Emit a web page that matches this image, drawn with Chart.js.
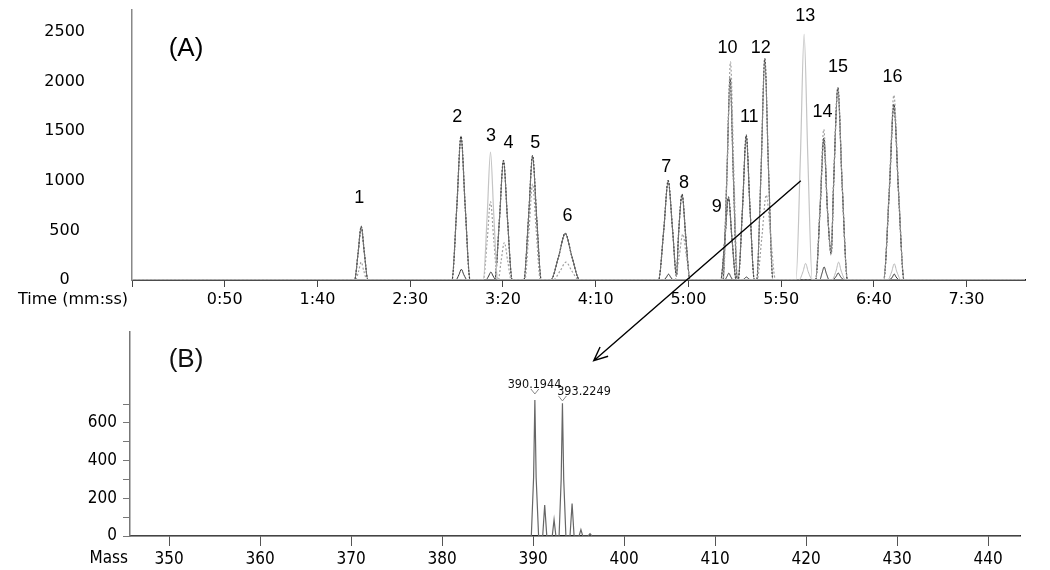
<!DOCTYPE html>
<html>
<head>
<meta charset="utf-8">
<script src="https://cdn.jsdelivr.net/npm/chart.js@4.4.1/dist/chart.umd.min.js"></script>
<style>
  html, body { margin: 0; padding: 0; background: #fff; }
  #wrap { position: relative; width: 1050px; height: 570px; }
  #chromCanvas { position: absolute; left: 0; top: 0; }
  #specCanvas { position: absolute; left: 0; top: 312px; }
  #arrowCanvas { position: absolute; left: 0; top: 0; pointer-events: none; }
</style>
</head>
<body>
<div id="wrap">
  <canvas id="chromCanvas" width="1050" height="312"></canvas>
  <canvas id="specCanvas" width="1050" height="258"></canvas>
  <canvas id="arrowCanvas" width="1050" height="570"></canvas>
</div>
<script>
// (A) chromatogram - time in seconds, intensity in counts
const timeTicks = [0, 50, 100, 150, 200, 250, 300, 350, 400, 450];
const intensityTicks = [0, 500, 1000, 1500, 2000, 2500];

// main (dark) channel
const darkTime = [0,
  120.0, 121.9, 123.6, 125.3, 127.2,
  172.5, 175.1, 177.4, 179.7, 182.3,
  195.6, 198.1, 200.3, 202.5, 205.0,
  211.3, 213.8, 216.0, 218.2, 220.7,
  225.8, 230.0, 233.6, 237.2, 241.4,
  283.9, 286.7, 289.1, 291.5, 293.6, 294.6, 296.6, 298.6, 300.9,
  317.4, 319.7, 321.6, 323.5, 325.8,
  326.8, 329.2, 331.2, 333.2, 335.6,
  368.6, 371.0, 373.0, 375.0, 377.0, 378.3, 380.6, 382.9, 385.8,
  405.3, 408.3, 410.8, 413.3, 416.3,
  481.5];
const darkValue = [0,
  0, 270, 541, 270, 0,
  0, 725, 1450, 725, 0,
  0, 602, 1204, 602, 0,
  0, 626, 1253, 626, 0,
  0, 235, 470, 235, 0,
  0, 500, 1001, 500, 40, 430, 863, 430, 0,
  0, 418, 837, 418, 0,
  0, 730, 1460, 730, 0,
  0, 713, 1427, 700, 265, 968, 1936, 968, 0,
  0, 886, 1772, 886, 0,
  0];

// second dark dashed channel (peaks 10, 12)
const midTime = [0, 318.6, 320.7, 322.5, 324.3, 326.4, 336.8, 339.2, 341.2, 343.2, 345.6, 481.5];
const midValue = [0, 0, 1017, 2034, 1017, 0, 0, 1115, 2231, 1115, 0, 0];

// light dotted qualifier channel
const dotTime = [0,
  120.5, 122.2, 123.6, 125.0, 126.7,
  189.4, 191.5, 193.3, 195.1, 197.2,
  197.5, 199.0, 200.8, 202.6, 204.5,
  211.8, 214.0, 216.0, 218.0, 220.2,
  227.0, 230.8, 234.0, 237.2, 241.0,
  292.8, 295.0, 297.0, 299.0, 301.2,
  318.8, 320.9, 322.7, 324.5, 326.6,
  337.0, 339.6, 342.0, 344.4, 347.0,
  368.6, 371.0, 373.0, 375.0, 377.0, 378.3, 380.6, 382.9, 385.8,
  405.3, 408.3, 410.8, 413.3, 416.3,
  481.5];
const dotValue = [0,
  0, 90, 180, 90, 0,
  0, 395, 790, 395, 0,
  0, 188, 377, 188, 0,
  0, 483, 967, 483, 0,
  0, 90, 180, 90, 0,
  0, 231, 462, 231, 0,
  0, 1099, 2198, 1099, 0,
  0, 428, 856, 428, 0,
  0, 760, 1519, 700, 250, 968, 1936, 968, 0,
  0, 931, 1863, 931, 0,
  0];

// light solid channel (peaks 3, 13)
const lightTime = [0, 189.4, 191.5, 193.3, 195.1, 197.2, 358.0, 360.4, 362.4, 364.4, 366.8, 481.5];
const lightValue = [0, 0, 645, 1290, 645, 0, 0, 1238, 2477, 1238, 0, 0];

// small light bumps under 13, 15, 16
const lightBumpTime = [0, 359.6, 361.8, 363.2, 364.6, 367.0, 377.4, 379.6, 381.0, 382.4, 384.8, 407.4, 409.6, 411.0, 412.4, 414.8, 481.5];
const lightBumpValue = [0, 0, 84, 167, 84, 0, 0, 90, 180, 90, 0, 0, 82, 164, 82, 0, 0];

// small dark bumps
const bumpTime = [0,
  174.6, 176.3, 177.6, 178.9, 180.8,
  190.8, 192.3, 193.5, 194.7, 196.3,
  286.6, 288.2, 289.3, 290.4, 292.0,
  319.5, 320.8, 321.8, 322.8, 324.2,
  329.0, 330.3, 331.3, 332.3, 333.8,
  370.8, 372.0, 373.2, 374.4, 376.0,
  377.6, 379.6, 380.8, 382.0, 384.0,
  408.2, 410.0, 411.0, 412.0, 414.0,
  481.5];
const bumpValue = [0,
  0, 54, 108, 54, 0,
  0, 40, 80, 40, 0,
  0, 30, 59, 30, 0,
  0, 35, 69, 35, 0,
  0, 15, 30, 15, 0,
  0, 65, 131, 65, 0,
  0, 35, 70, 35, 0,
  0, 30, 60, 30, 0,
  0];

// peak numbers and where they sit
const peakNames = ['1', '2', '3', '4', '5', '6', '7', '8', '9', '10', '11', '12', '13', '14', '15', '16'];
const labelTime = [122.5, 175.4, 193.6, 203.0, 217.4, 234.8, 288.0, 297.7, 315.3, 321.1, 332.8, 339.0, 363.0, 372.3, 380.7, 410.0];
const labelValue = [827, 1644, 1447, 1378, 1378, 640, 1142, 974, 738, 2343, 1644, 2343, 2657, 1693, 2146, 2047];

// (B) mass spectrum
const massTicks = [350, 360, 370, 380, 390, 400, 410, 420, 430, 440];
const specTicks = [0, 100, 200, 300, 400, 500, 600, 700];
const specLabels = [0, 200, 400, 600];
const massValues = [345.7, 389.8, 390.05, 390.19, 390.33, 390.6, 391.05, 391.27, 391.5, 392.1, 392.3, 392.5,
  392.85, 393.08, 393.22, 393.36, 393.6, 394.05, 394.28, 394.5, 395.05, 395.25, 395.45, 396.05, 396.25, 396.45, 443.5];
const specIntensity = [0, 0, 310, 721, 310, 0, 0, 164, 0, 0, 87, 0,
  0, 300, 704, 300, 0, 0, 172, 0, 0, 34, 0, 0, 12, 0, 0];
const massNames = ['390.1944', '393.2249'];
const massLabelX = [390.15, 395.59];
const massLabelY = [801, 765];
const caretMass = [390.19, 393.22];
const caretValue = [764, 727];

// arrow from the chromatogram (time, intensity) to the spectrum (mass, intensity)
const arrowStart = [360.6, 1001];
const arrowEnd = [396.66, 930];

function toPoints(xs, ys) {
    return xs.map((v, i) => ({ x: v, y: ys[i] }));
}

function fmtTime(v) {
    return Math.floor(v / 60) + ':' + String(v % 60).padStart(2, '0');
}

const chromPlugin = {
    id: 'chromLabels',
    afterDraw(chart) {
        const { ctx, chartArea, scales: { x, y } } = chart;
        ctx.save();
        ctx.fillStyle = '#000';
        ctx.textAlign = 'center';
        ctx.textBaseline = 'middle';
        ctx.font = '18px "Liberation Sans", Arial, sans-serif';
        peakNames.forEach((name, i) => {
            ctx.fillText(name, x.getPixelForValue(labelTime[i]), y.getPixelForValue(labelValue[i]));
        });
        ctx.font = '26px "Liberation Sans", Arial, sans-serif';
        ctx.fillText('(A)', chartArea.left + 54, chartArea.top + 39);
        ctx.textAlign = 'right';
        ctx.font = '16px "DejaVu Sans", sans-serif';
        ctx.fillText('Time (mm:ss)', chartArea.left - 4, chartArea.bottom + 20);
        ctx.restore();
    }
};

const specPlugin = {
    id: 'specLabels',
    afterDraw(chart) {
        const { ctx, chartArea, scales: { x, y } } = chart;
        ctx.save();
        ctx.fillStyle = '#111';
        ctx.textAlign = 'center';
        ctx.textBaseline = 'middle';
        ctx.font = '26px "Liberation Sans", Arial, sans-serif';
        ctx.fillText('(B)', chartArea.left + 56, chartArea.top + 28);
        ctx.font = '12.5px "DejaVu Sans Condensed", "DejaVu Sans", sans-serif';
        massNames.forEach((name, i) => {
            ctx.fillText(name, x.getPixelForValue(massLabelX[i]), y.getPixelForValue(massLabelY[i]));
        });
        // little carets over the labelled peaks
        ctx.strokeStyle = '#888';
        ctx.lineWidth = 1;
        caretMass.forEach((m, i) => {
            const cx = x.getPixelForValue(m);
            const cy = y.getPixelForValue(caretValue[i]);
            ctx.beginPath();
            ctx.moveTo(cx - 4, cy - 3);
            ctx.lineTo(cx, cy + 2);
            ctx.lineTo(cx + 4, cy - 3);
            ctx.stroke();
        });
        ctx.textAlign = 'right';
        ctx.fillStyle = '#000';
        ctx.font = '17px "DejaVu Sans Condensed", "DejaVu Sans", sans-serif';
        ctx.fillText('Mass', chartArea.left - 2, chartArea.bottom + 23);
        ctx.restore();
    }
};

function lineSet(xs, ys, color, width, dash) {
    return {
        data: toPoints(xs, ys),
        borderColor: color,
        borderWidth: width,
        borderDash: dash,
        pointRadius: 0,
        fill: false,
        cubicInterpolationMode: 'monotone'
    };
}

const tickFont = { family: '"DejaVu Sans", sans-serif', size: 16 };
const condFont = { family: '"DejaVu Sans Condensed", "DejaVu Sans", sans-serif', size: 17 };

const chromChart = new Chart(document.getElementById('chromCanvas').getContext('2d'), {
    type: 'line',
    data: {
        datasets: [
            lineSet(lightTime, lightValue, '#c4c4c4', 1.2, []),
            lineSet(lightBumpTime, lightBumpValue, '#b8b8b8', 1, []),
            lineSet(dotTime, dotValue, '#a0a0a0', 1.2, [2, 2]),
            lineSet(midTime, midValue, '#808080', 1.1, []),
            lineSet(midTime, midValue, '#222', 1.2, [2, 1.5]),
            lineSet(bumpTime, bumpValue, '#333', 1, []),
            lineSet(darkTime, darkValue, '#707070', 1.1, []),
            lineSet(darkTime, darkValue, '#000', 1.2, [2, 1.5])
        ]
    },
    options: {
        responsive: false,
        animation: false,
        events: [],
        layout: { padding: { top: 3, right: 25, left: 0, bottom: 0 } },
        plugins: { legend: { display: false }, tooltip: { enabled: false } },
        scales: {
            x: {
                type: 'linear', min: 0, max: 481.5,
                afterBuildTicks: s => { s.ticks = timeTicks.map(v => ({ value: v })); },
                afterFit: s => { s.height = 32; },
                grid: { display: true, drawOnChartArea: false, drawTicks: true, tickLength: 7, color: '#444' },
                border: { display: true, color: '#111', width: 1.8 },
                ticks: {
                    autoSkip: false, maxRotation: 0, padding: 3, color: '#000', font: tickFont,
                    callback: v => v === 0 ? '' : fmtTime(v)
                }
            },
            y: {
                min: 0, max: 2726,
                afterBuildTicks: s => { s.ticks = intensityTicks.map(v => ({ value: v })); },
                afterFit: s => { s.width = 132; },
                // long invisible tick marks push the centred labels away from the axis
                grid: { display: false, drawTicks: true, tickLength: 47 },
                border: { display: true, color: '#888', width: 1.5 },
                ticks: { padding: 0, crossAlign: 'center', color: '#000', font: tickFont, callback: v => String(v) }
            }
        }
    },
    plugins: [chromPlugin]
});

const specChart = new Chart(document.getElementById('specCanvas').getContext('2d'), {
    type: 'line',
    data: {
        datasets: [{
            data: toPoints(massValues, specIntensity),
            borderColor: '#666',
            borderWidth: 1.2,
            pointRadius: 0,
            fill: false,
            tension: 0
        }]
    },
    options: {
        responsive: false,
        animation: false,
        events: [],
        layout: { padding: { top: 20, right: 30, left: 0, bottom: 0 } },
        plugins: { legend: { display: false }, tooltip: { enabled: false } },
        scales: {
            x: {
                type: 'linear', min: 345.7, max: 443.5,
                afterBuildTicks: s => { s.ticks = massTicks.map(v => ({ value: v })); },
                afterFit: s => { s.height = 34; },
                grid: { display: true, drawOnChartArea: false, drawTicks: true, tickLength: 10, color: '#555' },
                border: { display: true, color: '#222', width: 1.5 },
                ticks: { autoSkip: false, maxRotation: 0, padding: 3, color: '#000', font: condFont }
            },
            y: {
                min: 0, max: 1082,
                afterBuildTicks: s => { s.ticks = specTicks.map(v => ({ value: v })); },
                afterFit: s => { s.width = 130; },
                grid: { display: true, drawOnChartArea: false, drawTicks: true, tickLength: 7, color: '#777' },
                border: { display: true, color: '#777', width: 1.5 },
                ticks: {
                    padding: 6, color: '#000', font: condFont,
                    callback: v => specLabels.includes(v) ? String(v) : ''
                }
            }
        }
    },
    plugins: [specPlugin]
});

function drawArrow() {
    const ctx = document.getElementById('arrowCanvas').getContext('2d');
    const specTop = 312;
    const x1 = chromChart.scales.x.getPixelForValue(arrowStart[0]);
    const y1 = chromChart.scales.y.getPixelForValue(arrowStart[1]);
    const x2 = specChart.scales.x.getPixelForValue(arrowEnd[0]);
    const y2 = specChart.scales.y.getPixelForValue(arrowEnd[1]) + specTop;
    const ang = Math.atan2(y2 - y1, x2 - x1);
    const head = 15;
    ctx.strokeStyle = '#000';
    ctx.lineWidth = 1.4;
    ctx.beginPath();
    ctx.moveTo(x1, y1);
    ctx.lineTo(x2, y2);
    ctx.moveTo(x2 - head * Math.cos(ang - 0.42), y2 - head * Math.sin(ang - 0.42));
    ctx.lineTo(x2, y2);
    ctx.lineTo(x2 - head * Math.cos(ang + 0.42), y2 - head * Math.sin(ang + 0.42));
    ctx.stroke();
}

drawArrow();
</script>
</body>
</html>
